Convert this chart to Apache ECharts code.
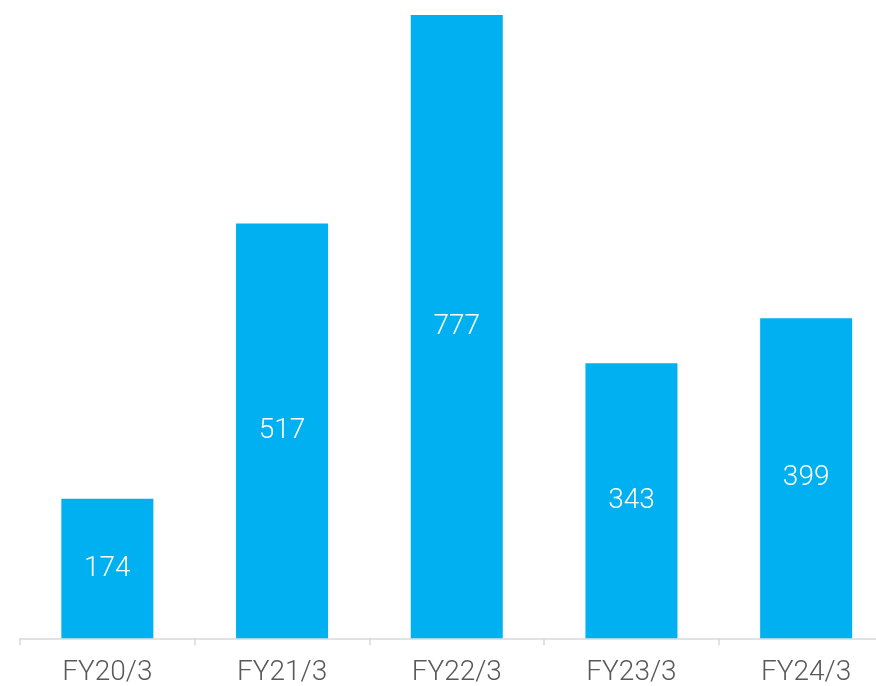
<!DOCTYPE html>
<html>
<head>
<meta charset="utf-8">
<script src="https://cdn.jsdelivr.net/npm/echarts@6/dist/echarts.min.js"></script>
<style>
  html, body { margin: 0; padding: 0; background: #fff; overflow: hidden; width: 876px; height: 686px; }
  /* canvas is a little wider than the window: the last category runs past the right edge */
  #chart { width: 894px; height: 686px; }
</style>
</head>
<body>
<div id="chart"></div>
<script>
// Fiscal years and yearly values
const categories = ['FY20/3', 'FY21/3', 'FY22/3', 'FY23/3', 'FY24/3'];
const values = [174, 517, 777, 343, 399];

const chart = echarts.init(document.getElementById('chart'), null, { renderer: 'canvas' });
const fontFamily = 'Roboto, "Noto Sans", sans-serif';

chart.setOption({
  animation: false,
  grid: { left: 20, right: 0.5, top: 0, bottom: 47.7, outerBoundsMode: 'none', containLabel: false },
  xAxis: {
    type: 'category',
    data: categories,
    axisLine: { lineStyle: { color: '#d9d9d9', width: 1.5 } },
    axisTick: { show: true, length: 7, lineStyle: { color: '#d9d9d9', width: 1.5 } },
    axisLabel: { color: '#595959', fontSize: 28, fontFamily, fontWeight: 300, margin: 21 }
  },
  yAxis: {
    type: 'value',
    min: 0,
    max: 795.7,
    show: false,
    splitLine: { show: false }
  },
  series: [{
    type: 'bar',
    data: values,
    barWidth: 92,
    itemStyle: { color: '#00B0F0' },
    label: {
      show: true,
      position: 'inside',
      color: '#ffffff',
      fontSize: 28,
      fontFamily,
      fontWeight: 300
    }
  }]
});
</script>
</body>
</html>
